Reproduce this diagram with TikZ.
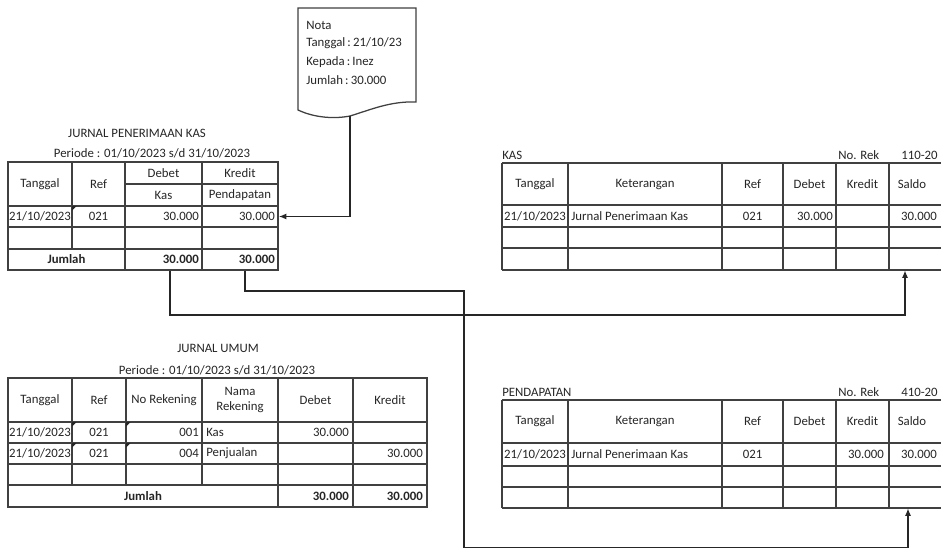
\documentclass[tikz,border=0pt]{standalone}
\usepackage{fontspec}
\setmainfont{Carlito}
\usetikzlibrary{arrows.meta}
\begin{document}
\begin{tikzpicture}[x=0.75pt,y=-0.75pt,
  every node/.style={font=\fontsize{9.6}{11.5}\selectfont, inner sep=0pt, text=black!85},
  grid/.style={draw=black!75, line width=0.95pt},
  conn/.style={draw=black!85, line width=0.8pt},
  arr/.style={-{Latex[length=5.5pt,width=4.5pt]}},
  bf/.style={font=\fontsize{9.6}{11.5}\selectfont\bfseries},
  errmark/.style={fill=black!85, draw=none},
  rt/.style={anchor=east},
  lt/.style={anchor=west}]
\useasboundingbox (0,0) rectangle (941,549);
\fill[white] (0,0) rectangle (941,549);

% ---------- Nota document ----------
\draw[grid, fill=white] (298,110) -- (298,8) -- (416,8) -- (416,102)
  .. controls (390,101) and (370,110) .. (350,116)
  .. controls (335,119) and (315,118) .. (298,110) -- cycle;
\node[lt] (n1) at (306,25) {Nota};
\node[lt] (n2) at (306,43) {Tanggal\,:\,21/10/23};
\node[lt] (n3) at (306,62) {Kepada\,:\,Inez};
\node[lt] (n4) at (306,80) {Jumlah\,:\,30.000};
\coordinate (notab) at (350,116.5);

% ---------- Jurnal Penerimaan Kas ----------
\node (jpkt) at (137,133) {JURNAL PENERIMAAN KAS};
\node (jpkp) at (152,153) {Periode : 01/10/2023 s/d 31/10/2023};
\draw[grid] (8,162) rectangle (278,270);
\draw[grid] (8,206) -- (278,206) (8,227) -- (278,227) (8,249) -- (278,249)
  (125,184) -- (278,184)
  (72,162) -- (72,249) (125,162) -- (125,270) (202,162) -- (202,270);
\fill[errmark] (72,206) -- (76.5,206) -- (72,210.5) -- cycle;
\node (a1) at (40,184) {Tanggal};
\node (a2) at (98.5,184) {Ref};
\node (a3) at (163.5,173) {Debet};
\node (a4) at (240,173) {Kredit};
\node (a5) at (163.5,195) {Kas};
\node (a6) at (240,195) {Pendapatan};
\node (a7) at (40,216.5) {21/10/2023};
\node (a8) at (98.5,216.5) {021};
\node[rt] (a9) at (199,216.5) {30.000};
\node[rt] (a10) at (275,216.5) {30.000};
\node[bf] (a11) at (66.5,259.5) {Jumlah};
\node[bf,rt] (a12) at (199,259.5) {30.000};
\node[bf,rt] (a13) at (275,259.5) {30.000};
\coordinate (jpkin) at (279,216.5);
\coordinate (jpkdeb) at (170,270.5);
\coordinate (jpkkre) at (245,270.5);

% ---------- KAS ----------
\node[lt] (k0) at (502,155) {KAS};
\node[lt] (k01) at (838,155) {No. Rek};
\node[lt] (k02) at (901,155) {110-20};
\draw[grid] (502,163) -- (941,163) (502,205) -- (941,205) (502,227) -- (941,227)
  (502,248) -- (941,248) (502,270) -- (941,270);
\foreach \x in {502,568,722,783,836,889} \draw[grid] (\x,163) -- (\x,270);
\node (k1) at (535,184) {Tanggal};
\node (k2) at (645,184) {Keterangan};
\node (k3) at (752.5,184) {Ref};
\node (k4) at (809.5,184) {Debet};
\node (k5) at (862.5,184) {Kredit};
\node (k6) at (912,184) {Saldo};
\node (k7) at (535,216) {21/10/2023};
\node[lt] (k8) at (571,216) {Jurnal Penerimaan Kas};
\node (k9) at (752.5,216) {021};
\node[rt] (k10) at (833,216) {30.000};
\node[rt] (k11) at (937,216) {30.000};
\coordinate (kasin) at (905,270.5);
\coordinate (kasturn) at (905,315);

% ---------- PENDAPATAN ----------
\node[lt] (p0) at (502,392) {PENDAPATAN};
\node[lt] (p01) at (838,392) {No. Rek};
\node[lt] (p02) at (901,392) {410-20};
\draw[grid] (502,400) -- (941,400) (502,443) -- (941,443) (502,466) -- (941,466)
  (502,487) -- (941,487) (502,508) -- (941,508);
\foreach \x in {502,568,722,783,836,889} \draw[grid] (\x,400) -- (\x,508);
\node (p1) at (535,421.5) {Tanggal};
\node (p2) at (645,421.5) {Keterangan};
\node (p3) at (752.5,421.5) {Ref};
\node (p4) at (809.5,421.5) {Debet};
\node (p5) at (862.5,421.5) {Kredit};
\node (p6) at (912,421.5) {Saldo};
\node (p7) at (535,454.5) {21/10/2023};
\node[lt] (p8) at (571,454.5) {Jurnal Penerimaan Kas};
\node (p9) at (752.5,454.5) {021};
\node[rt] (p10) at (884,454.5) {30.000};
\node[rt] (p11) at (937,454.5) {30.000};
\coordinate (pdin) at (908,508.5);
\coordinate (mid1) at (464,291);
\coordinate (mid2) at (908,547.5);

% ---------- JURNAL UMUM ----------
\node (jut) at (218,348) {JURNAL UMUM};
\node (jup) at (217,370) {Periode : 01/10/2023 s/d 31/10/2023};
\draw[grid] (8,378) rectangle (427,507);
\draw[grid] (8,422) -- (427,422) (8,443) -- (427,443) (8,464) -- (427,464) (8,485) -- (427,485)
  (72,378) -- (72,485) (126,378) -- (126,485) (202,378) -- (202,485)
  (278,378) -- (278,507) (353,378) -- (353,507);
\foreach \x/\y in {72/422,126/422,72/443,126/443}
  \fill[errmark] (\x,\y) -- (\x+4.5,\y) -- (\x,\y+4.5) -- cycle;
\node (u1) at (40,400) {Tanggal};
\node (u2) at (99,400) {Ref};
\node (u3) at (164,400) {No Rekening};
\node[align=center] (u4) at (240,400) {Nama\\Rekening};
\node (u5) at (315.5,400) {Debet};
\node (u6) at (390,400) {Kredit};
\node (u7) at (40,432.5) {21/10/2023};
\node (u8) at (99,432.5) {021};
\node[rt] (u9) at (199,432.5) {001};
\node[lt] (u10) at (206,432.5) {Kas};
\node[rt] (u11) at (349,432.5) {30.000};
\node (u12) at (40,453.5) {21/10/2023};
\node (u13) at (99,453.5) {021};
\node[rt] (u14) at (199,453.5) {004};
\node[lt] (u15) at (206,453.5) {Penjualan};
\node[rt] (u16) at (423,453.5) {30.000};
\node[bf] (u17) at (143,496) {Jumlah};
\node[bf,rt] (u18) at (349,496) {30.000};
\node[bf,rt] (u19) at (423,496) {30.000};

% ---------- connectors ----------
\draw[conn,arr] (notab) |- (jpkin);
\draw[conn,arr] (jpkdeb) |- (kasturn) -- (kasin);
\draw[conn,arr] (jpkkre) |- (mid1) |- (mid2) -- (pdin);
\end{tikzpicture}
\end{document}
